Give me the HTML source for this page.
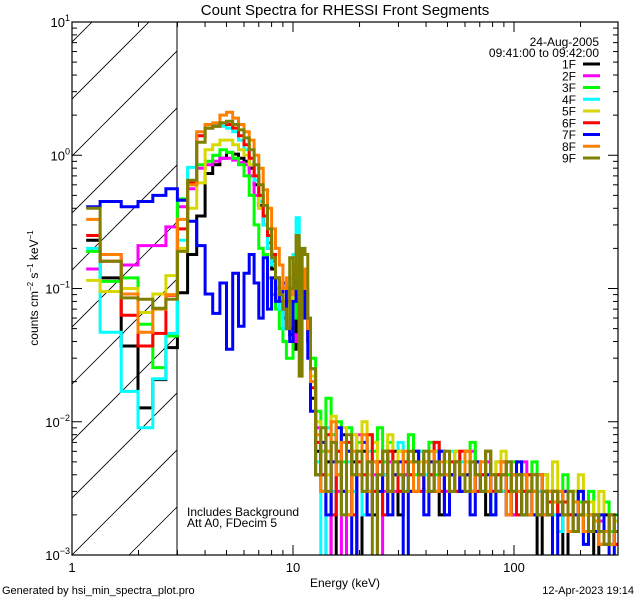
<!DOCTYPE html>
<html><head><meta charset="utf-8"><style>
html,body{margin:0;padding:0;background:#fff;}
svg{display:block;font-family:"Liberation Sans",sans-serif;}
</style></head><body>
<svg id="chart" width="640" height="600" viewBox="0 0 640 600" xmlns="http://www.w3.org/2000/svg">
<rect x="0" y="0" width="640" height="600" fill="#fff"/>
<defs>
<clipPath id="plotclip"><rect x="72" y="22" width="546" height="533"/></clipPath>
<clipPath id="hatchclip"><rect x="72" y="22" width="105" height="533"/></clipPath>
</defs>
<text x="345" y="15" font-size="15" text-anchor="middle">Count Spectra for RHESSI Front Segments</text>
<g id="hatch" clip-path="url(#hatchclip)"></g>
<line x1="177" y1="22" x2="177" y2="555" stroke="#000" stroke-width="1"/>
<g id="series" clip-path="url(#plotclip)"></g>
<rect x="72" y="22" width="546" height="533" fill="none" stroke="#000" stroke-width="1.2"/>
<g id="ticks"></g>
<text x="345" y="587" font-size="12" text-anchor="middle">Energy (keV)</text>
<text transform="translate(38,288) rotate(-90)" font-size="12" text-anchor="middle">counts cm<tspan dy="-5" font-size="8">−2</tspan><tspan dy="5"> s</tspan><tspan dy="-5" font-size="8">−1</tspan><tspan dy="5"> keV</tspan><tspan dy="-5" font-size="8">−1</tspan></text>
<text x="187" y="516" font-size="12">Includes Background</text>
<text x="187" y="527" font-size="12">Att A0, FDecim 5</text>
<text x="2" y="594" font-size="11">Generated by hsi_min_spectra_plot.pro</text>
<text x="634" y="594" font-size="11" text-anchor="end">12-Apr-2023 19:14</text>
<text x="599" y="46" font-size="12" text-anchor="end">24-Aug-2005</text>
<text x="599" y="57" font-size="12" text-anchor="end">09:41:00 to 09:42:00</text>
<g id="legend"></g>
</svg>
<script>
const seriesNames = ["1F","2F","3F","4F","5F","6F","7F","8F","9F"];
const seriesColors = ["#000000","#ff00ff","#00ff00","#00ffff","#d8d800","#ff0000","#0000ff","#ff8000","#808000"];
const lowEdges = [1.16,1.34,1.67,1.99,2.32,2.66,3.0];
const xTickLabels = ["1","10","100"];
const yTickExps = ["1","0","−1","−2","−3"];
const s1F = [0.23,0.12,0.037,0.0127,0.0207,0.036, .093,.18,.35,.73,.85,.95,1.05,1.02,.95,.9,.8,.6,.42,.3,.2,.14,.1,.08,.06,.05,.045,.035,.06,.09,.1,.07,.04,
15e-3,6e-3,3e-3,5e-3,0.8e-3,4e-3,8e-3,2e-3,5e-3,0.7e-3,6e-3,3e-3,2e-3,5e-3,4e-3,3e-3,6e-3,2e-3,4e-3,5e-3,3e-3,4e-3,5e-3,3e-3,6e-3,2e-3,5e-3,4e-3,3e-3,4e-3,6e-3,3e-3,5e-3,4e-3,2e-3,4e-3,3e-3,5e-3,3e-3,2e-3,4e-3,3e-3,2e-3,3e-3,0.8e-3,3e-3,2e-3,3e-3,2e-3,0.9e-3,2e-3,3e-3,2e-3,1.5e-3,2e-3,0.9e-3,1.5e-3,2e-3,1.2e-3,1.5e-3];
const s2F = [0.14,0.18,0.15,0.21,0.21,0.29, .41,.56,.8,.85,.9,.95,.95,.92,.88,.85,.7,.5,.4,.3,.22,.16,.12,.09,.07,.06,.05,.045,.04,.06,.08,.09,.05,
25e-3,9e-3,4e-3,0.6e-3,7e-3,3e-3,0.5e-3,6e-3,3e-3,8e-3,2e-3,5e-3,4e-3,0.7e-3,3e-3,5e-3,3e-3,6e-3,4e-3,3e-3,5e-3,6e-3,3e-3,4e-3,5e-3,6e-3,3e-3,4e-3,5e-3,3e-3,4e-3,6e-3,3e-3,4e-3,5e-3,3e-3,4e-3,3e-3,5e-3,2e-3,4e-3,5e-3,3e-3,2e-3,3e-3,4e-3,2e-3,3e-3,2e-3,3e-3,2e-3,2.5e-3,3e-3,2e-3,1.5e-3,2e-3,1.8e-3,1.2e-3,2e-3,1.5e-3];
const s3F = [0.19,0.113,0.12,0.054,0.0255,0.044, .47,.6,.85,.9,1.0,1.1,1.05,.95,.85,.7,.5,.3,.2,.18,.12,.09,.07,.05,.04,.03,.03,.06,.1,.12,.08,.09,.05,
30e-3,12e-3,6e-3,15e-3,8e-3,10e-3,5e-3,9e-3,4e-3,7e-3,3e-3,8e-3,6e-3,9e-3,5e-3,7e-3,4e-3,6e-3,5e-3,8e-3,4e-3,6e-3,5e-3,7e-3,4e-3,6e-3,5e-3,3e-3,6e-3,4e-3,5e-3,7e-3,4e-3,3e-3,6e-3,4e-3,5e-3,3e-3,4e-3,5e-3,3e-3,4e-3,3e-3,5e-3,2e-3,4e-3,3e-3,2e-3,3e-3,4e-3,2e-3,3e-3,2.5e-3,2e-3,3e-3,1.5e-3,2e-3,2.5e-3,1.5e-3,2e-3];
const s4F = [0.2,0.047,0.0169,0.009,0.021,0.046, .23,.81,1.4,1.6,1.7,1.65,1.6,1.5,1.3,1.1,.85,.65,.45,.3,.2,.15,.1,.07,.05,.06,.1,.18,.34,.16,.1,.08,.04,
20e-3,5e-3,0.6e-3,9e-3,3e-3,6e-3,2e-3,5e-3,3e-3,4e-3,2e-3,6e-3,3e-3,5e-3,4e-3,3e-3,5e-3,7e-3,3e-3,4e-3,5e-3,6e-3,4e-3,5e-3,7e-3,3e-3,4e-3,6e-3,3e-3,5e-3,4e-3,3e-3,5e-3,4e-3,3e-3,2e-3,4e-3,3e-3,5e-3,3e-3,2e-3,4e-3,3e-3,2e-3,3e-3,2e-3,3e-3,2e-3,1.5e-3,2e-3,3e-3,1.5e-3,2e-3,1.2e-3,2e-3,1.5e-3,1.2e-3,1.5e-3,1.2e-3,1.5e-3];
const s5F = [0.115,0.095,0.1,0.066,0.091,0.125, .2,.4,.62,1.1,1.2,1.3,1.3,1.2,1.1,1.0,.85,.7,.4,.35,.25,.18,.12,.1,.08,.07,.06,.1,.12,.14,.1,.08,.05,
22e-3,10e-3,7e-3,4e-3,11e-3,6e-3,9e-3,3e-3,8e-3,5e-3,10e-3,4e-3,7e-3,5e-3,6e-3,8e-3,4e-3,6e-3,5e-3,4e-3,6e-3,5e-3,3e-3,5e-3,6e-3,4e-3,5e-3,3e-3,6e-3,4e-3,5e-3,3e-3,4e-3,5e-3,3e-3,4e-3,5e-3,6e-3,3e-3,4e-3,5e-3,3e-3,4e-3,3e-3,2e-3,4e-3,3e-3,5e-3,2e-3,3e-3,2e-3,3e-3,4e-3,2e-3,2.5e-3,2e-3,3e-3,1.5e-3,2e-3,1.8e-3];
const s6F = [0.25,0.16,0.063,0.037,0.046,0.089, .28,.62,1.4,1.6,1.65,1.75,1.7,1.6,1.4,1.2,.95,.7,.5,.35,.25,.18,.12,.09,.07,.08,.1,.15,.14,.1,.12,.07,.04,
18e-3,7e-3,4e-3,8e-3,2e-3,6e-3,3e-3,7e-3,2e-3,5e-3,4e-3,8e-3,3e-3,5e-3,2e-3,6e-3,4e-3,3e-3,5e-3,4e-3,6e-3,3e-3,5e-3,4e-3,7e-3,3e-3,4e-3,5e-3,3e-3,6e-3,4e-3,5e-3,3e-3,4e-3,6e-3,3e-3,4e-3,5e-3,3e-3,4e-3,2e-3,3e-3,4e-3,3e-3,2e-3,3e-3,2.5e-3,3e-3,2e-3,2.5e-3,2e-3,1.5e-3,2e-3,2.5e-3,1.5e-3,2e-3,1.2e-3,1.5e-3,2e-3,1.2e-3];
const s7F = [0.41,0.45,0.41,0.45,0.5,0.56, .46,.32,.21,.091,.065,.11,.035,.13,.052,.13,.18,.11,.06,.17,.07,.12,.08,.09,.11,.05,.04,.08,.14,.1,.12,.06,.03,
12e-3,4e-3,7e-3,2e-3,5e-3,9e-3,3e-3,6e-3,0.6e-3,4e-3,7e-3,2e-3,5e-3,3e-3,6e-3,2e-3,4e-3,5e-3,0.8e-3,3e-3,6e-3,4e-3,2e-3,5e-3,3e-3,6e-3,2e-3,4e-3,5e-3,3e-3,4e-3,2e-3,5e-3,3e-3,4e-3,2e-3,3e-3,4e-3,2e-3,3e-3,5e-3,2e-3,3e-3,2e-3,4e-3,2e-3,3e-3,0.8e-3,2e-3,3e-3,1.5e-3,2e-3,3e-3,1.2e-3,2e-3,1.5e-3,2e-3,1.2e-3,0.9e-3,1.5e-3];
const s8F = [0.33,0.18,0.091,0.047,0.07,0.09, .33,.6,1.5,1.7,1.75,2.0,2.1,1.9,1.7,1.5,1.3,1.0,.8,.55,.4,.28,.2,.15,.1,.12,.09,.15,.12,.18,.14,.1,.05,
20e-3,8e-3,3e-3,6e-3,10e-3,4e-3,7e-3,2e-3,6e-3,4e-3,8e-3,3e-3,5e-3,4e-3,6e-3,3e-3,5e-3,4e-3,6e-3,5e-3,3e-3,4e-3,5e-3,6e-3,3e-3,5e-3,4e-3,3e-3,5e-3,4e-3,6e-3,3e-3,4e-3,5e-3,3e-3,4e-3,3e-3,5e-3,2e-3,4e-3,3e-3,4e-3,2e-3,3e-3,4e-3,2e-3,3e-3,2.5e-3,3e-3,2e-3,1.5e-3,2.5e-3,2e-3,1.5e-3,2e-3,1.8e-3,1.2e-3,1.5e-3,1.2e-3,1.5e-3];
const s9F = [0.4,0.16,0.085,0.083,0.071,0.083, .19,.65,1.25,1.6,1.65,1.75,1.8,1.7,1.55,1.35,1.1,.85,.6,.42,.28,.17,.12,.09,.07,.05,.17,.1,.25,.022,.2,.18,.06,
25e-3,4e-3,9e-3,3e-3,7e-3,5e-3,2e-3,8e-3,4e-3,6e-3,3e-3,5e-3,0.8e-3,4e-3,6e-3,3e-3,5e-3,4e-3,3e-3,6e-3,5e-3,4e-3,6e-3,3e-3,5e-3,4e-3,6e-3,3e-3,5e-3,4e-3,3e-3,5e-3,4e-3,3e-3,6e-3,4e-3,3e-3,4e-3,5e-3,3e-3,4e-3,2e-3,3e-3,4e-3,2e-3,3e-3,2e-3,3e-3,2.5e-3,2e-3,3e-3,1.5e-3,2e-3,2.5e-3,1.5e-3,2e-3,1.5e-3,1.2e-3,2e-3,1.5e-3];
const seriesValues = [s1F,s2F,s3F,s4F,s5F,s6F,s7F,s8F,s9F];

const NS = "http://www.w3.org/2000/svg";
const X0 = 72, X1 = 618, Y0 = 555, Y1 = 22;
const DEC_X = 221, DEC_Y = (Y0 - Y1) / 4;
function xs(e){ return X0 + Math.log10(e) * DEC_X; }
function ys(v){ return Y0 - (Math.log10(Math.max(v,1e-5)) + 3) * DEC_Y; }

const edges = lowEdges.slice();
for (let k = 1; k <= 27; k++) edges.push(3.0 + k/3);
for (let i = 1; i <= 60; i++) edges.push(12.0 * Math.pow(300/12.0, i/60));

const hatch = document.getElementById('hatch');
for (let i = -12; i < 14; i++) {
  const bx = X0 + i * 57;
  const ln = document.createElementNS(NS, 'line');
  
  
  ln.setAttribute('x1', bx); ln.setAttribute('y1', Y0);
  ln.setAttribute('x2', bx + 600); ln.setAttribute('y2', Y0 - 600);
  ln.setAttribute('stroke', '#000'); ln.setAttribute('stroke-width', '0.8');
  hatch.appendChild(ln);
}
const sg = document.getElementById('series');
seriesValues.forEach((vals, si) => {
  let d = '';
  for (let i = 0; i < vals.length; i++) {
    const xa = xs(edges[i]), xb = xs(edges[i+1]), y = ys(vals[i]);
    d += (i === 0 ? 'M' : 'L') + xa.toFixed(1) + ',' + y.toFixed(1) + 'L' + xb.toFixed(1) + ',' + y.toFixed(1);
  }
  const p = document.createElementNS(NS, 'path');
  
  
  p.setAttribute('d', d);
  p.setAttribute('fill', 'none');
  p.setAttribute('stroke', seriesColors[si]);
  p.setAttribute('stroke-width', '3');
  sg.appendChild(p);
});
const tg = document.getElementById('ticks');
function addLine(x1,y1,x2,y2,name){
  const l = document.createElementNS(NS,'line');
  
  
  l.setAttribute('x1',x1);l.setAttribute('y1',y1);l.setAttribute('x2',x2);l.setAttribute('y2',y2);
  l.setAttribute('stroke','#000');l.setAttribute('stroke-width','1');
  tg.appendChild(l);
}
function addText(x,y,txt,anchor,name,size){
  const t = document.createElementNS(NS,'text');
  
  
  t.setAttribute('x',x);t.setAttribute('y',y);t.setAttribute('font-size',size||12);
  t.setAttribute('text-anchor',anchor);
  t.textContent = txt; tg.appendChild(t); return t;
}
for (let dec = 0; dec < 3; dec++) {
  for (let m = 1; m <= 9; m++) {
    const e = Math.pow(10,dec) * m;
    const x = xs(e);
    if (x > X1) break;
    const L = m === 1 ? 10 : 5;
    addLine(x, Y0, x, Y0 - L, 'x-tick');
    addLine(x, Y1, x, Y1 + L, 'x-tick');
  }
  addText(xs(Math.pow(10,dec)), 572, xTickLabels[dec], 'middle', 'x-tick-label', 13);
}
for (let dec = -3; dec <= 1; dec++) {
  for (let m = 1; m <= 9; m++) {
    const v = Math.pow(10,dec) * m;
    if (dec === 1 && m > 1) break;
    const y = ys(v);
    const L = m === 1 ? 10 : 5;
    addLine(X0, y, X0 + L, y, 'y-tick');
    addLine(X1, y, X1 - L, y, 'y-tick');
  }
  const t = addText(70, ys(Math.pow(10,dec)) + 5, '10', 'end', 'y-tick-label', 13);
  const sup = document.createElementNS(NS,'tspan');
  sup.setAttribute('dy','-6'); sup.setAttribute('font-size','9');
  sup.textContent = yTickExps[1 - dec];
  t.appendChild(sup);
}
const lg = document.getElementById('legend');
seriesNames.forEach((n, i) => {
  const y = 64 + i * 11.75;
  const t = document.createElementNS(NS,'text');
  
  
  t.setAttribute('x', 576); t.setAttribute('y', y + 4.5);
  t.setAttribute('font-size', '12'); t.setAttribute('text-anchor','end');
  t.textContent = n; lg.appendChild(t);
  const l = document.createElementNS(NS,'line');
  
  
  l.setAttribute('x1',583);l.setAttribute('x2',600);l.setAttribute('y1',y);l.setAttribute('y2',y);
  l.setAttribute('stroke',seriesColors[i]);l.setAttribute('stroke-width','3');
  lg.appendChild(l);
});
</script>
</body></html>
